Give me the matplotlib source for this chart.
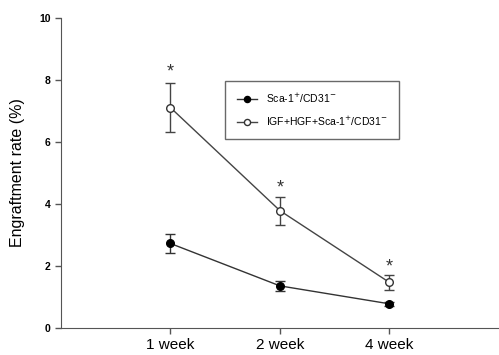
import matplotlib.pyplot as plt

plt.rcParams['font.family'] = ['Liberation Sans', 'DejaVu Sans']

weeks = ["1 week", "2 week", "4 week"]
sca_mean = [2.72, 1.35, 0.77]
sca_err = [0.30, 0.17, 0.07]
igf_mean = [7.11, 3.78, 1.46]
igf_err = [0.80, 0.45, 0.24]
star_y = [8.25, 4.5, 1.95]

fig = plt.figure(figsize=(4.99, 3.55), dpi=100)
ax = fig.add_axes([0.122, 0.077, 0.878, 0.872])

x = [1, 2, 3]
# error bars drawn separately so the legend only shows line + marker
ax.errorbar(x, sca_mean, yerr=sca_err, fmt="none", ecolor="#333333",
            capsize=3.5, elinewidth=1)
ax.errorbar(x, igf_mean, yerr=igf_err, fmt="none", ecolor="#444444",
            capsize=3.5, elinewidth=1)
ax.plot(x, sca_mean, color="#333333", lw=1, marker="o", ms=5.5,
        mfc="black", mec="black", label="Sca-1$^{+}$/CD31$^{-}$")
ax.plot(x, igf_mean, color="#444444", lw=1, marker="o", ms=5.5,
        mfc="white", mec="#333333", label="IGF+HGF+Sca-1$^{+}$/CD31$^{-}$")
for xi, yi in zip(x, star_y):
    ax.text(xi, yi, "*", ha="center", va="center", fontsize=13, color="#333333")

ax.set_xlim(0, 4)
ax.set_ylim(0, 10)
ax.set_xticks(x)
ax.set_xticklabels(weeks, fontsize=11)
ax.set_yticks([0, 2, 4, 6, 8, 10])
ax.set_yticklabels(["0", "2", "4", "6", "8", "10"], fontsize=7.5, fontweight="bold")
ax.set_ylabel("Engraftment rate (%)", fontsize=11.5, labelpad=10)
ax.tick_params(direction="out", length=4, color="#555555", width=1)
for s in ["top", "right"]:
    ax.spines[s].set_visible(False)
for s in ["left", "bottom"]:
    ax.spines[s].set_color("#555555")

leg = ax.legend(loc="upper left", bbox_to_anchor=(0.363, 0.815), fontsize=7.5,
                frameon=True, fancybox=False, edgecolor="#444444",
                borderpad=1.1, handlelength=2.0, labelspacing=0.9,
                markerscale=0.8)
leg.get_frame().set_linewidth(1)

fig.savefig("out.png", dpi=100)
